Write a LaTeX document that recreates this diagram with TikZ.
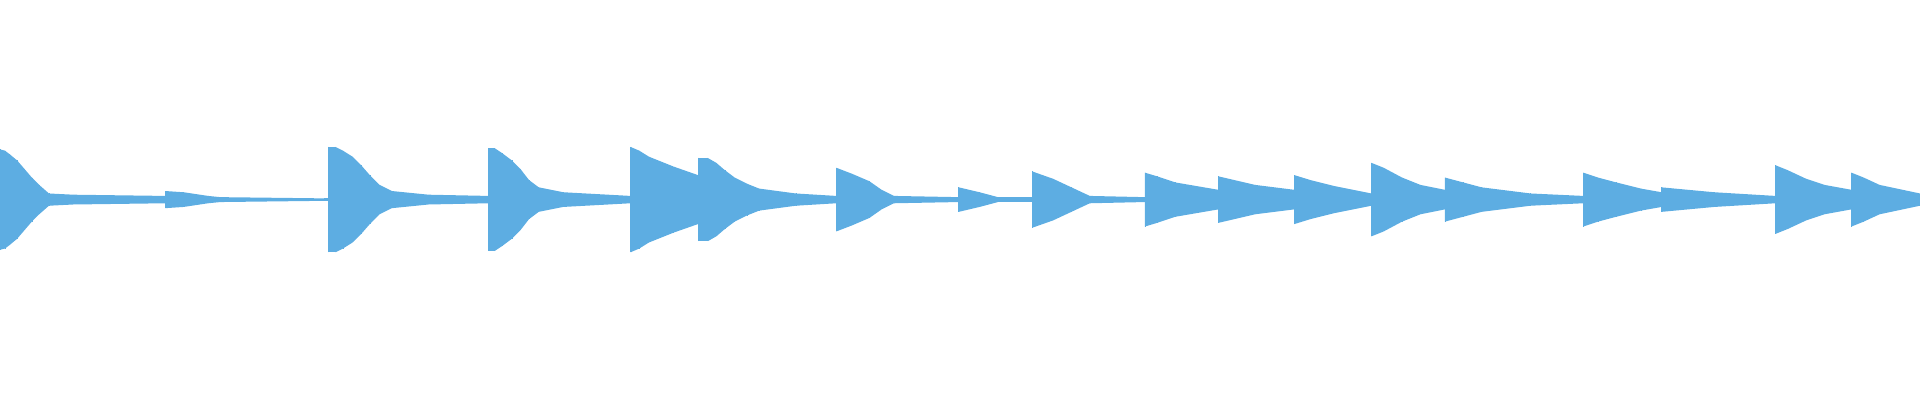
\documentclass[tikz,border=0pt]{standalone}
\definecolor{wave}{RGB}{93,173,226}
\begin{document}
\begin{tikzpicture}[x=1.2245pt,y=-1.2245pt]
\useasboundingbox (0,0) rectangle (1568,327);
\def\c{163}
\foreach \x/\a [remember=\x as \px (initially 0), remember=\a as \pa (initially 41)] in
{0/41, 4/40, 8/37, 14/32, 20/25, 26/18, 32/12, 40/5, 60/4, 135/3, 135/7, 150/6, 170/3, 180/2, 265/1, 268/1, 268/43, 274/43, 280/40, 288/35, 295/28, 302/20, 310/12, 320/7, 350/4, 399/3, 399/42, 404/42, 410/38, 418/32, 425/25, 432/16, 440/10, 460/6, 515/3, 515/43, 522/40, 530/35, 550/27, 570/20, 570/34, 578/34, 585/30, 592/24, 600/18, 610/13, 620/9, 650/5, 683/3, 683/26, 696/21, 710/15, 720/8, 730/3, 783/2, 783/10, 800/6, 815/2, 843/2, 843/23, 860/17, 875/10, 890/3, 935/2, 935/22, 945/19, 960/14, 995/8, 995/19, 1025/12, 1057/8, 1057/20, 1070/16, 1090/11, 1120/5, 1120/30, 1130/26, 1145/18, 1160/12, 1180/8, 1180/18, 1195/14, 1210/10, 1250/5, 1293/3, 1293/22, 1305/18, 1320/14, 1340/9, 1357/6, 1357/10, 1400/6, 1450/3, 1450/28, 1460/24, 1475/17, 1490/12, 1512/8, 1512/22, 1522/18, 1535/12, 1568/5}
{
  \fill[wave] (\px,\c-\pa) -- (\x,\c-\a) -- (\x,\c+\a) -- (\px,\c+\pa) -- cycle;
  \draw[wave,line width=0.6pt] (\x,\c-\a) -- (\x,\c+\a);
}
\end{tikzpicture}
\end{document}
